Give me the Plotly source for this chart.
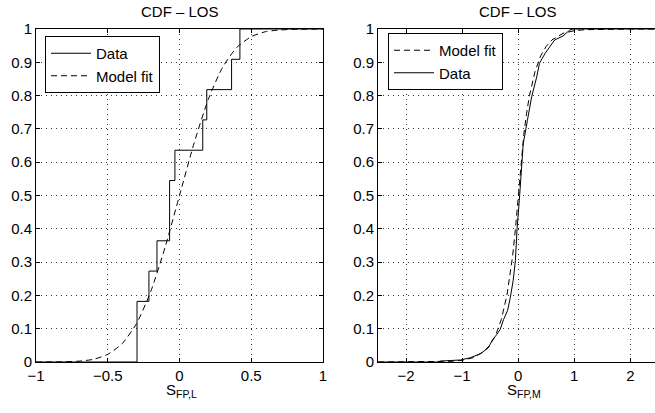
import plotly.graph_objects as go

# ---------------- data ----------------
# Left panel: empirical CDF (step function) and model fit
L_DATA_X = [-1.0, -0.296, -0.213, -0.157, -0.069, -0.032, 0.162, 0.19, 0.363, 0.421, 1.0]
L_DATA_Y = [0.0, 0.182, 0.273, 0.364, 0.545, 0.636, 0.727, 0.818, 0.909, 1.0, 1.0]

L_FIT_X = [-1.0, -0.8, -0.7, -0.6, -0.5, -0.4, -0.3, -0.2, -0.1, 0.0,
           0.1, 0.2, 0.3, 0.4, 0.5, 0.6, 0.7, 0.8, 1.0]
L_FIT_Y = [0.0, 0.0007, 0.0026, 0.008, 0.023, 0.055, 0.115, 0.212, 0.345, 0.5,
           0.655, 0.788, 0.885, 0.945, 0.977, 0.992, 0.997, 0.999, 1.0]

# Right panel: empirical CDF and model fit
R_DATA_X = [-2.5, -1.45, -1.38, -1.03, -0.85, -0.67, -0.53, -0.47, -0.38, -0.32,
            -0.26, -0.19, -0.14, -0.09, -0.05, -0.02, 0.02, 0.05, 0.09, 0.165,
            0.24, 0.33, 0.38, 0.48, 0.57, 0.65, 0.80, 0.92, 0.98, 2.5]
R_DATA_Y = [0.0, 0.0, 0.003, 0.006, 0.013, 0.025, 0.043, 0.063, 0.083, 0.098,
            0.128, 0.154, 0.194, 0.244, 0.304, 0.40, 0.485, 0.565, 0.655, 0.726,
            0.796, 0.856, 0.897, 0.927, 0.947, 0.967, 0.979, 0.997, 1.0, 1.0]

R_FIT_X = [-2.5, -2.0, -1.5, -1.2, -1.0, -0.8, -0.6, -0.5, -0.4, -0.3, -0.2, -0.15,
           -0.1, -0.05, 0.0, 0.05, 0.1, 0.15, 0.2, 0.3, 0.4, 0.5, 0.6, 0.8, 1.0,
           1.2, 1.5, 2.0, 2.5]
R_FIT_Y = [0.0, 0.0001, 0.0006, 0.002, 0.005, 0.013, 0.033, 0.052, 0.081, 0.128, 0.201, 0.253,
           0.317, 0.398, 0.5, 0.602, 0.683, 0.747, 0.799, 0.872, 0.919, 0.948, 0.967, 0.987, 0.995,
           0.998, 0.9994, 0.9999, 1.0]

L_XTICKS = [-1, -0.5, 0, 0.5, 1]
L_XTICK_TEXT = ["\u22121", "\u22120.5", "0", "0.5", "1"]
R_XTICKS = [-2, -1, 0, 1, 2]
R_XTICK_TEXT = ["\u22122", "\u22121", "0", "1", "2"]
YTICKS = [0, 0.1, 0.2, 0.3, 0.4, 0.5, 0.6, 0.7, 0.8, 0.9, 1]
YTICK_TEXT = ["0", "0.1", "0.2", "0.3", "0.4", "0.5", "0.6", "0.7", "0.8", "0.9", "1"]

TITLE = "CDF \u2013 LOS"

# ---------------- layout constants ----------------
W, H = 655, 413
FONT = "Liberation Sans, Arial, Helvetica, sans-serif"
FS = 15
top_px, bot_px = 29, 362
ydom = [1 - bot_px / H, 1 - top_px / H]
xdom1 = [36 / W, 323 / W]
xdom2 = [378 / W, 1.0]

fig = go.Figure()

dash = "6px,4px"

fig.add_trace(go.Scatter(x=L_DATA_X, y=L_DATA_Y, mode="lines", name="Data",
                         line=dict(color="black", width=1, shape="hv"),
                         xaxis="x", yaxis="y", legend="legend"))
fig.add_trace(go.Scatter(x=L_FIT_X, y=L_FIT_Y, mode="lines", name="Model fit",
                         line=dict(color="black", width=1, dash=dash, shape="spline", smoothing=0.6),
                         xaxis="x", yaxis="y", legend="legend"))
fig.add_trace(go.Scatter(x=R_FIT_X, y=R_FIT_Y, mode="lines", name="Model fit",
                         line=dict(color="black", width=1, dash=dash),
                         xaxis="x2", yaxis="y2", legend="legend2"))
fig.add_trace(go.Scatter(x=R_DATA_X, y=R_DATA_Y, mode="lines", name="Data",
                         line=dict(color="black", width=1),
                         xaxis="x2", yaxis="y2", legend="legend2"))

grid = dict(showgrid=True, gridcolor="#333333", gridwidth=1, griddash="1px,4px",
            zeroline=False, showline=True, linecolor="black", linewidth=1,
            ticks="inside", ticklen=4, tickcolor="black", automargin=False,
            tickfont=dict(family=FONT, size=FS, color="black"))

fig.update_layout(
    template="none",
    width=W, height=H,
    margin=dict(l=0, r=0, t=0, b=0, pad=0, autoexpand=False),
    paper_bgcolor="white", plot_bgcolor="white",
    font=dict(family=FONT, size=FS, color="black"),
    xaxis=dict(domain=xdom1, range=[-1, 1], anchor="y", mirror="ticks",
               tickvals=L_XTICKS, ticktext=L_XTICK_TEXT, **grid),
    yaxis=dict(domain=ydom, range=[0, 1], anchor="x", mirror="ticks",
               tickvals=YTICKS, ticktext=YTICK_TEXT, **grid),
    xaxis2=dict(domain=xdom2, range=[-2.5, 2.44], anchor="y2", mirror="ticks",
                tickvals=R_XTICKS, ticktext=R_XTICK_TEXT, **grid),
    yaxis2=dict(domain=ydom, range=[0, 1], anchor="x2", mirror=False,
                tickvals=YTICKS, ticktext=YTICK_TEXT, **grid),
    legend=dict(x=45 / W, y=1 - 36 / H, xanchor="left", yanchor="top",
                bgcolor="white", bordercolor="black", borderwidth=1,
                font=dict(family=FONT, size=FS, color="black"),
                tracegroupgap=0, itemwidth=40),
    legend2=dict(x=388 / W, y=1 - 33 / H, xanchor="left", yanchor="top",
                 bgcolor="white", bordercolor="black", borderwidth=1,
                 font=dict(family=FONT, size=FS, color="black"),
                 tracegroupgap=0, itemwidth=40),
    showlegend=True,
)

fig.add_annotation(text=TITLE, xref="paper", yref="paper", x=(36 + 323) / 2 / W, y=1 - 11 / H,
                   xanchor="center", yanchor="middle", showarrow=False,
                   font=dict(family=FONT, size=FS, color="black"))
fig.add_annotation(text=TITLE, xref="x2", yref="paper", x=0, y=1 - 11 / H,
                   xanchor="center", yanchor="middle", showarrow=False,
                   font=dict(family=FONT, size=FS, color="black"))
fig.add_annotation(text="S<sub>FP,L</sub>", xref="paper", yref="paper", x=(36 + 323) / 2 / W + 2 / W,
                   y=1 - 379 / H, xanchor="center", yanchor="top", showarrow=False,
                   font=dict(family=FONT, size=FS, color="black"))
fig.add_annotation(text="S<sub>FP,M</sub>", xref="x2", yref="paper", x=0.1,
                   y=1 - 379 / H, xanchor="center", yanchor="top", showarrow=False,
                   font=dict(family=FONT, size=FS, color="black"))

fig.write_html(
    "out.html",
    config={"displayModeBar": False},
    post_script="document.body.style.margin='0';document.body.style.overflow='hidden';",
)
